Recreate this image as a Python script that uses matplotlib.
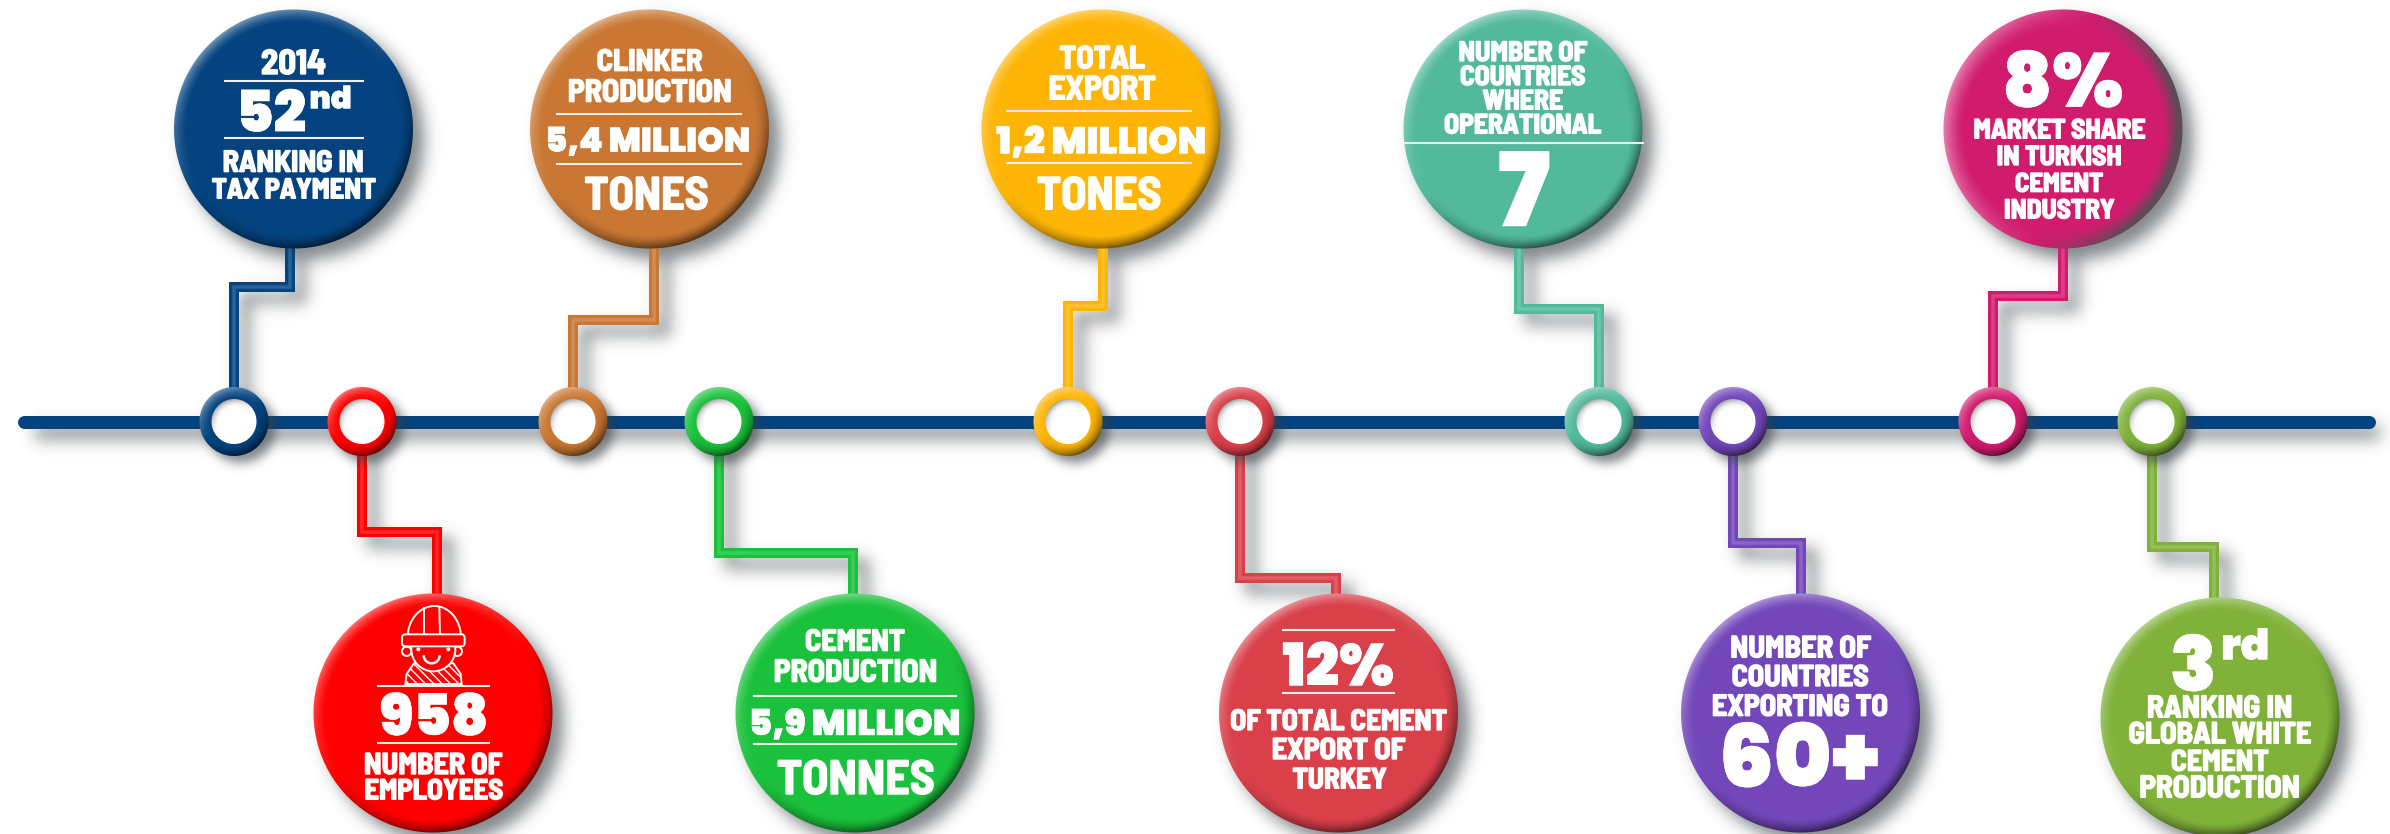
import numpy as np
import matplotlib
matplotlib.use("Agg")
import matplotlib.pyplot as plt
import matplotlib.patheffects as pe
from matplotlib.patches import Arc, Circle, FancyBboxPatch, Polygon

W, H = 2390, 834
COND = ['Barlow Semi Condensed', 'Liberation Sans Narrow', 'DejaVu Sans']
HEAVY = ['Poppins', 'Archivo Black', 'Lato', 'DejaVu Sans']

# ---- content -------------------------------------------------------------
names = ['tax', 'employees', 'clinker', 'cement', 'export', 'share', 'countries', 'markets', 'market', 'white']
colors = ['#04437f', '#fe0000', '#c97733', '#1ac13c', '#feb505', '#d9404a', '#52ba9b', '#7347ba', '#d11c6e', '#80b23a']
node_x = [234, 362, 573, 719, 1068, 1240, 1599, 1733, 1993, 2152]
elbow_y = [287, 532, 320, 553, 306, 578, 309, 543, 296, 547]
badge_x = [290, 437, 654, 853, 1103, 1336, 1519, 1801, 2063, 2214]
disc_x = [293.5, 433, 649.5, 855, 1101, 1338.5, 1523, 1800.5, 2063, 2220]
disc_y = [129, 713, 129, 713, 129, 713, 129, 713, 129, 717]
zoom_origin = [(150, 0), (300, 580), (520, 0), (720, 580), (970, 0), (1205, 580), (1380, 0), (1665, 580), (1940, 0), (2085, 580)]

# text, left, right, baseline, font key  (positions in 3x crop units)
labels = [
    [('2014', 333, 528, 222, 'c'), ('52', 258, 468, 395, 'h'), ('nd', 478, 605, 325, 'h'),
     ('RANKING IN', 218, 642, 515, 'c'), ('TAX PAYMENT', 185, 678, 595, 'c')],
    [('958', 238, 565, 465, 'h'), ('NUMBER OF', 192, 608, 582, 'c'), ('EMPLOYEES', 192, 610, 658, 'c')],
    [('CLINKER', 230, 548, 212, 'c'), ('PRODUCTION', 142, 635, 305, 'c'),
     ('5,4 MILLION', 75, 692, 455, 'h'), ('TONES', 193, 567, 628, 'c')],
    [('CEMENT', 255, 555, 212, 'c'), ('PRODUCTION', 160, 652, 305, 'c'),
     ('5,9 MILLION', 85, 722, 465, 'h'), ('TONNES', 170, 645, 642, 'c')],
    [('TOTAL', 268, 525, 205, 'c'), ('EXPORT', 235, 558, 298, 'c'),
     ('1,2 MILLION', 78, 710, 460, 'h'), ('TONES', 200, 575, 628, 'c')],
    [('12%', 232, 567, 316, 'h'), ('OF TOTAL CEMENT', 75, 727, 450, 'c'),
     ('EXPORT OF', 200, 602, 537, 'c'), ('TURKEY', 262, 545, 625, 'c')],
    [('NUMBER OF', 235, 622, 183, 'c'), ('COUNTRIES', 240, 617, 255, 'c'), ('WHERE', 308, 550, 328, 'c'),
     ('OPERATIONAL', 192, 665, 400, 'c'), ('7', 354, 510, 678, 'h')],
    [('NUMBER OF', 195, 618, 232, 'c'), ('COUNTRIES', 200, 612, 318, 'c'),
     ('EXPORTING TO', 140, 670, 407, 'c'), ('60+', 162, 643, 620, 'h')],
    [('8%', 187, 550, 320, 'h'), ('MARKET SHARE', 100, 617, 415, 'c'), ('IN TURKISH', 170, 546, 495, 'c'),
     ('CEMENT', 225, 490, 575, 'c'), ('INDUSTRY', 192, 525, 655, 'c')],
    [('3', 255, 395, 332, 'h'), ('rd', 408, 553, 238, 'h'), ('RANKING IN', 185, 622, 412, 'c'),
     ('GLOBAL WHITE', 130, 680, 490, 'c'), ('CEMENT', 258, 552, 572, 'c'), ('PRODUCTION', 162, 645, 652, 'c')],
]
rules = [
    [(222, 642, 242), (222, 642, 413)],
    [(230, 570, 318), (230, 570, 490)],
    [(107, 665, 342), (107, 665, 491)],
    [(100, 712, 349), (100, 712, 492)],
    [(108, 665, 334), (108, 665, 490)],
    [(232, 570, 150), (232, 570, 340)],
    [(72, 792, 430)],
    [],
    [],
    [],
]

# ---- layout --------------------------------------------------------------
R_DISC, R_OUT, R_IN = 119.5, 34.5, 22.5
LINE_Y, LINE_HALF = 421.5, 6.5
LINE_X0, LINE_X1 = 24, 2369
NAVY = '#04437f'

fig = plt.figure(figsize=(W / 100, H / 100), dpi=100, facecolor='white')
ax = fig.add_axes([0, 0, 1, 1])
ax.set_axis_off()
yy, xx = np.mgrid[0:H, 0:W]
xx = xx + 0.5
yy = yy + 0.5


def rgb(c):
    return np.array(matplotlib.colors.to_rgb(c))


def blur(mask, sigma, dx, dy):
    pad = 80
    m = np.pad(mask, pad)
    m = np.roll(np.roll(m, dy, axis=0), dx, axis=1)
    fy = np.fft.fftfreq(m.shape[0])[:, None]
    fx = np.fft.rfftfreq(m.shape[1])[None, :]
    g = np.exp(-2 * np.pi ** 2 * sigma ** 2 * (fx ** 2 + fy ** 2))
    out = np.fft.irfft2(np.fft.rfft2(m) * g, s=m.shape)
    return np.clip(out[pad:-pad, pad:-pad], 0, 1)


def shadow_layer(mask, dx, dy, sigma, strength, z):
    a = blur(mask, sigma, dx, dy) * strength
    img = np.zeros((H, W, 4))
    img[..., 0] = 0.22
    img[..., 1] = 0.25
    img[..., 2] = 0.27
    img[..., 3] = a
    ax.imshow(img, extent=(0, W, H, 0), aspect='auto', interpolation='nearest', zorder=z)


def button(cx, cy, ro, color, z, ri=0.0, rim=13.0, dark=None, lit_dir=(-0.55, -0.83), dark_gain=0.62):
    x0, x1 = int(cx - ro - 2), int(cx + ro + 3)
    y0, y1 = int(cy - ro - 2), int(cy + ro + 3)
    gy, gx = np.mgrid[y0:y1, x0:x1]
    dx, dy = gx + 0.5 - cx, gy + 0.5 - cy
    d = np.hypot(dx, dy) + 1e-6
    base = rgb(color)
    t = np.clip((d - (ro - rim)) / rim, 0, 1) ** 1.4
    lit = (lit_dir[0] * dx + lit_dir[1] * dy) / d
    light = np.clip(lit, 0, 1) * t * 0.45
    shade = np.clip(np.clip(-lit, 0, 1) * t * dark_gain, 0, 1)
    dk = np.zeros(3) if dark is None else rgb(dark)
    img = np.zeros(d.shape + (4,))
    for i in range(3):
        c = base[i] * (1 - light) + light
        img[..., i] = c * (1 - shade) + dk[i] * shade
    alpha = np.clip(ro - d + 0.5, 0, 1)
    if ri > 0:
        inner = np.clip(ri - d + 0.5, 0, 1)
        g = 1 - 0.4 * np.clip((d - (ri - 9)) / 9, 0, 1) ** 2 * np.clip(lit, 0, 1)
        for i in range(3):
            img[..., i] = img[..., i] * (1 - inner) + g * inner
    img[..., 3] = alpha
    ax.imshow(img, extent=(x0, x1, y1, y0), aspect='auto', interpolation='nearest', zorder=z)


# ---- shadows -------------------------------------------------------------
mask_top = np.zeros((H, W))
for cx, cy in zip(disc_x, disc_y):
    mask_top = np.maximum(mask_top, (np.hypot(xx - cx, yy - cy) <= R_DISC).astype(float))
mask_top[int(LINE_Y - LINE_HALF):int(LINE_Y + LINE_HALF), LINE_X0:LINE_X1] = 1
for nx, ey, bx, cy in zip(node_x, elbow_y, badge_x, disc_y):
    ya, yb = sorted((int(LINE_Y), ey))
    mask_top[ya:yb, nx - 5:nx + 5] = 1
    xa, xb = sorted((nx, bx))
    mask_top[ey - 5:ey + 5, xa - 5:xb + 5] = 1
    ya, yb = sorted((ey, int(cy)))
    mask_top[ya:yb, bx - 5:bx + 5] = 1
shadow_layer(mask_top, 11, 11, 8, 0.62, 1)

# ---- timeline ------------------------------------------------------------
ax.plot([LINE_X0, LINE_X1], [LINE_Y, LINE_Y], color=NAVY, lw=13 * 0.72, solid_capstyle='round', zorder=2)
for nx, ey, bx, cy, col in zip(node_x, elbow_y, badge_x, disc_y, colors):
    px, py = [nx, nx, bx, bx], [LINE_Y, ey, ey, cy]
    ax.plot(px, py, color=col, lw=10 * 0.72, solid_joinstyle='miter', solid_capstyle='butt', zorder=3)
    ax.plot(px, py, color='white', alpha=0.16, lw=3.5 * 0.72, solid_joinstyle='miter', solid_capstyle='butt', zorder=3.1)

mask_nodes = np.zeros((H, W))
for nx in node_x:
    mask_nodes = np.maximum(mask_nodes, (np.hypot(xx - nx, yy - LINE_Y) <= R_OUT).astype(float))
shadow_layer(mask_nodes, 7, 7, 5, 0.6, 4)
for nx, col in zip(node_x, colors):
    button(nx, LINE_Y, R_OUT, col, 5, ri=R_IN, rim=12)

# ---- badges --------------------------------------------------------------
renderer = fig.canvas.get_renderer()
stroke = {'c': 1.0, 'h': 0.3}
for cx, cy, col, (ox, oy), lines, rl, name in zip(disc_x, disc_y, colors, zoom_origin, labels, rules, names):
    if name == 'market':
        button(cx, cy, R_DISC, col, 6, rim=20, dark='#5f4a58', lit_dir=(-0.97, -0.25), dark_gain=1.6)
    else:
        button(cx, cy, R_DISC, col, 6)
    for x0, x1, y in rl:
        ax.plot([ox + x0 / 3, ox + x1 / 3], [oy + y / 3, oy + y / 3], color='#eeeeee', lw=1.5,
                solid_capstyle='butt', zorder=7)
    for s, x0, x1, base, kind in lines:
        t = ax.text(ox + (x0 + x1) / 6, oy + base / 3, s, color='white', ha='center', va='baseline',
                    family=COND if kind == 'c' else HEAVY, weight=700 if kind == 'c' else 900,
                    fontsize=30, zorder=8,
                    path_effects=[pe.withStroke(linewidth=stroke[kind], foreground='white')])
        w = t.get_window_extent(renderer).width
        t.set_fontsize(30 * ((x1 - x0) / 3) / w)

# ---- worker icon (on the red badge) --------------------------------------
ox, oy = zoom_origin[1]


def Z(x, y):
    return ox + x / 3, oy + y / 3


RED = colors[1]
ilw = 1.4
body = [Z(316, 312), Z(320, 282), Z(342, 250), Z(460, 250), Z(482, 282), Z(485, 312)]
plt.rcParams['hatch.linewidth'] = 1.0
plt.rcParams['hatch.color'] = 'white'
ax.add_patch(Polygon(body, closed=True, facecolor=RED, edgecolor='white', hatch='\\\\\\\\', lw=ilw, zorder=9))
ax.add_patch(Circle(Z(400, 208), 66 / 3, facecolor=RED, edgecolor='white', lw=ilw, zorder=9.1))
for ex in (320, 472):
    ax.add_patch(Circle(Z(ex, 214), 14 / 3, facecolor=RED, edgecolor='white', lw=ilw, zorder=9.05))
for ex in (355, 445):
    ax.add_patch(Circle(Z(ex, 208), 6 / 3, facecolor='white', edgecolor='none', zorder=9.3))
ax.add_patch(Arc(Z(395, 226), 48 / 3, 48 / 3, theta1=0, theta2=180, edgecolor='white', lw=1.8, zorder=9.3))
dome_c = Z(403, 172)
ax.add_patch(Circle(Z(403, 135), 55 / 3, facecolor=RED, edgecolor='none', zorder=9.15))
ax.add_patch(Arc(dome_c, 160 / 3, 188 / 3, theta1=180, theta2=360, edgecolor='white', lw=ilw, zorder=9.6))
ax.add_patch(FancyBboxPatch(Z(315, 172), 170 / 3, 18 / 3, boxstyle='round,pad=3,rounding_size=3.5',
                            facecolor=RED, edgecolor='white', lw=ilw, zorder=9.7))
for xa, xb in ((372, 372), (418, 420)):
    ax.plot([Z(xa, 84)[0], Z(xb, 165)[0]], [Z(xa, 84)[1], Z(xb, 165)[1]], color='white', lw=ilw, zorder=9.6)

ax.set_xlim(0, W)
ax.set_ylim(H, 0)
fig.savefig('out.png', dpi=100, facecolor='white')
